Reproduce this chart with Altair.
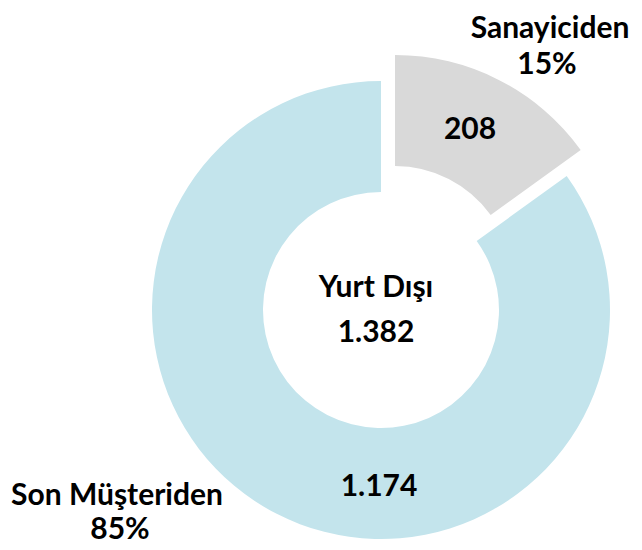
import altair as alt
import pandas as pd

categories = ["Sanayiciden", "Son Müşteriden"]
values = [208, 1174]
value_labels = ["208", "1.174"]
percent_labels = ["15%", "85%"]
colors = ["#D9D9D9", "#C3E4EC"]
center_title = "Yurt Dışı"
center_total = "1.382"

df = pd.DataFrame({"category": categories, "value": values, "order": [0, 1]})
total = sum(values)

FONT = "Lato"
CX, CY = 373, 302
R_OUT, R_IN = 229, 118

base = (
    alt.Chart(df)
    .transform_window(cum="sum(value)", sort=[alt.SortField("order")])
    .transform_calculate(start="datum.cum - datum.value")
)

color_scale = alt.Scale(domain=categories, range=colors)
theta_scale = alt.Scale(domain=[0, total])

blue = base.transform_filter(alt.datum.category == categories[1]).mark_arc(
    outerRadius=R_OUT, innerRadius=R_IN
).encode(
    theta=alt.Theta("start:Q", scale=theta_scale),
    theta2="cum:Q",
    color=alt.Color("category:N", scale=color_scale, legend=None),
    x=alt.value(CX),
    y=alt.value(CY),
)

gray = base.transform_filter(alt.datum.category == categories[0]).mark_arc(
    outerRadius=R_OUT, innerRadius=R_IN, xOffset=14, yOffset=-26
).encode(
    theta=alt.Theta("start:Q", scale=theta_scale),
    theta2="cum:Q",
    color=alt.Color("category:N", scale=color_scale, legend=None),
    x=alt.value(CX),
    y=alt.value(CY),
)


def txt(s, x, y, size=30):
    return alt.Chart(pd.DataFrame({"t": [s]})).mark_text(
        font=FONT, fontWeight="bold", fontSize=size, color="#000000",
        align="center", baseline="alphabetic"
    ).encode(text="t:N", x=alt.value(x), y=alt.value(y))


texts = [
    txt(categories[0], 542, 30),
    txt(percent_labels[0], 539, 66),
    txt(categories[1], 109, 497),
    txt(percent_labels[1], 112, 531),
    txt(center_title, 368, 289),
    txt(center_total, 368, 334),
    txt(value_labels[0], 462, 131),
    txt(value_labels[1], 371, 488),
]

chart = alt.layer(blue, gray, *texts).properties(
    width=626, height=536, padding=0, autosize="none"
).configure_view(stroke=None)

chart.save("out.html", embed_options={"renderer": "svg", "actions": False})
